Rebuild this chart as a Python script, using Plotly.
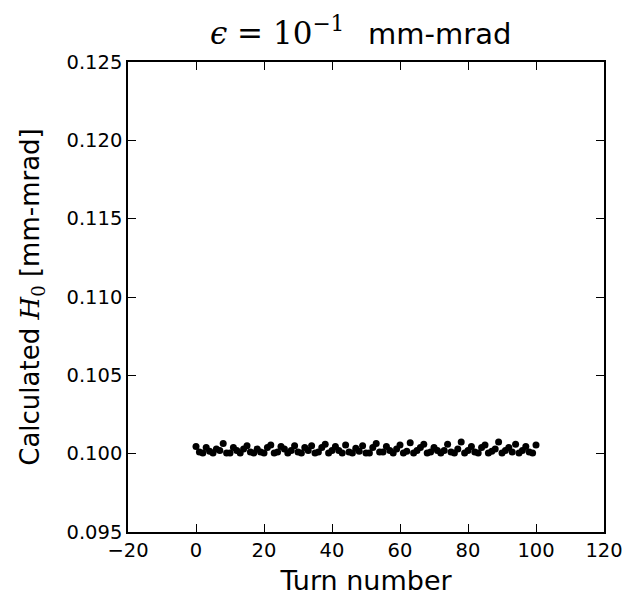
import plotly.graph_objects as go

turns = list(range(0, 101))
offsets_e4 = [4.5, 1, 0.5, 4, 1.5, 0.5, 3, 2, 6.5, 0.5,
              0.5, 4, 2, 0.5, 3, 5, 1, 0.5, 3, 1,
              0.5, 4, 5.5, 0.5, 1, 4.5, 3, 0.5, 2, 5,
              1, 0.5, 4, 2, 5, 0.5, 1, 4, 6, 0.5,
              2, 4.5, 2, 0.5, 5.5, 1, 0.5, 3.5, 1.5, 5,
              0.5, 0.5, 4, 6.5, 1, 1, 4.5, 2, 0.5, 3,
              5.5, 0.5, 1.5, 7, 0.5, 2, 4, 6, 0.5, 1,
              4, 2, 0.5, 2, 6, 1, 0.5, 3, 7.5, 0.5,
              2, 4.5, 1, 0.5, 4, 5.5, 0.5, 1.5, 3, 7.5,
              0.5, 2, 4, 1, 6, 0.5, 2, 4.5, 1, 0.5, 5.5]
h0 = [0.1 + v * 1e-4 for v in offsets_e4]

x_ticks = [-20, 0, 20, 40, 60, 80, 100, 120]
y_ticks = [0.095, 0.100, 0.105, 0.110, 0.115, 0.120, 0.125]

serif = "DejaVu Serif"
fig = go.Figure(go.Scatter(x=turns, y=h0, mode="markers",
                           marker=dict(color="black", size=7, line=dict(width=0))))

axis_common = dict(showgrid=False, zeroline=False, showline=True, linecolor="black",
                   linewidth=1.5, mirror="allticks", ticks="inside", ticklen=8,
                   tickwidth=1, tickcolor="black",
                   tickfont=dict(family="DejaVu Sans", size=19.5, color="black"))

fig.update_layout(
    width=632, height=598,
    margin=dict(l=120, r=36, t=54, b=74),
    paper_bgcolor="white", plot_bgcolor="white",
    showlegend=False,
    title=dict(text=f"<span style='font-family:{serif};font-size:31px'><i>ϵ</i> = 10<sup>−1</sup></span>"
                    f"\u2002 mm-mrad",
               x=0.558, xanchor="center", xref="container", y=1 - 26 / 598, yanchor="middle",
               yref="container",
               font=dict(family="DejaVu Sans", size=29, color="black")),
    xaxis=dict(range=[-20, 120], tickvals=x_ticks,
               ticktext=[str(v).replace("-", "−") for v in x_ticks],
               title=dict(text="Turn number", standoff=10,
                          font=dict(family="DejaVu Sans", size=27, color="black")),
               **axis_common),
    yaxis=dict(range=[0.095, 0.125], tickvals=y_ticks,
               ticktext=[f"{v:.3f}" for v in y_ticks],
               title=dict(text=f"Calculated <span style='font-family:{serif}'><i>H</i><sub>0</sub></span> [mm-mrad]",
                          standoff=19,
                          font=dict(family="DejaVu Sans", size=26, color="black")),
               **axis_common),
)

fig.write_html("out.html")
